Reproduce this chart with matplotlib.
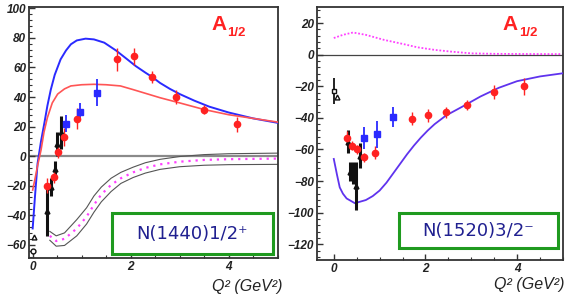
import matplotlib
matplotlib.use("Agg")
import matplotlib.pyplot as plt
from matplotlib.patches import Rectangle
from matplotlib.ticker import MultipleLocator, AutoMinorLocator

plt.rcParams["font.family"] = ["Liberation Sans", "DejaVu Sans"]
# tick labels in the original are bold italic
plt.rcParams["font.style"] = "italic"
plt.rcParams["font.weight"] = "bold"

# ---------------- N(1440)1/2+ ----------------
# model curves
roper_blue_q2 = [0.0, 0.05, 0.1, 0.17, 0.24, 0.3, 0.37, 0.45, 0.57, 0.68, 0.78,
                 0.9, 1.08, 1.25, 1.46, 1.7, 1.93, 2.1, 2.3, 2.44, 2.6, 2.8, 3.0,
                 3.3, 3.6, 4.0, 4.5, 5.0]
roper_blue_a = [-49, -26, -5, 10, 22.6, 34, 45, 55, 65.5, 71.5, 75.7,
                78.3, 79.5, 79, 76.8, 71.5, 65.5, 61, 56.5, 53.5, 49.5, 45.5, 42,
                37.5, 33.5, 29.5, 25.5, 22.5]
roper_red_q2 = [0.0, 0.05, 0.1, 0.17, 0.23, 0.3, 0.4, 0.51, 0.65, 0.78, 1.0,
                1.25, 1.5, 1.79, 2.05, 2.3, 2.6, 3.0, 3.5, 4.0, 4.5, 5.0]
roper_red_a = [-23, -15, -6.5, 4, 16, 26, 36, 42, 45.5, 47.5, 48.3,
               48.6, 48.3, 47.5, 45, 42.5, 39.5, 36, 31.5, 28, 25.5, 23]
band_q2 = [0.35, 0.48, 0.65, 0.9, 1.1, 1.25, 1.4, 1.6, 1.8, 2.05, 2.3, 2.6,
           3.0, 3.5, 4.0, 5.0]
band_hi = [-51, -54, -52, -43, -35, -27, -21, -15, -11, -7.5, -4.5, -2.2,
           -0.3, 1.0, 1.6, 2.0]
band_lo = [-57, -61, -60.5, -54, -46, -38, -31, -24, -18.5, -14.5, -11.5, -9,
           -7.2, -6.2, -5.8, -5.6]
band_mid = [-54, -57.5, -56, -49, -41, -33, -26, -19.5, -15, -11, -8, -5.6,
            -3.8, -2.6, -2.1, -1.7]

# data
roper_red_x = [0.30, 0.43, 0.52, 0.64, 0.91, 1.73, 2.06, 2.44, 2.92, 3.49, 4.16]
roper_red_y = [-20, -14, 3, 13, 25.3, 65.5, 67.5, 53.5, 40, 31.5, 21.5]
roper_red_e = [5, 4, 4, 6, 7, 8, 5.5, 4, 5, 3, 5]
roper_blue_x = [0.68, 0.97, 1.31]
roper_blue_y = [22, 30, 43]
roper_blue_e = [6, 6, 9]
roper_blk_x = [0.30, 0.38, 0.45, 0.50, 0.57]
roper_blk_y = [-37, -21, -9, 8, 16]
roper_blk_e = [17, 6, 6, 8, 11]

# ---------------- N(1520)3/2- ----------------
d13_blue_q2 = [0.0, 0.07, 0.13, 0.2, 0.28, 0.46, 0.7, 0.85, 1.0, 1.15, 1.3,
               1.45, 1.6, 1.75, 1.9, 2.05, 2.2, 2.45, 2.8, 3.2, 3.6, 4.0, 4.5, 5.0]
d13_blue_a = [-66, -76, -84, -88, -91, -94, -92, -89.5, -86, -81, -75,
              -69, -63, -57.5, -52.5, -48, -44, -38.5, -33, -26.5, -21, -16.8,
              -13.8, -11.8]
d13_mag_q2 = [0.0, 0.2, 0.42, 0.7, 1.1, 1.5, 1.83, 2.2, 2.56, 3.0, 3.5, 4.0, 5.0]
d13_mag_a = [10.5, 12.5, 14, 12.5, 9.3, 6.8, 4.6, 3.0, 1.9, 0.8, 0.5, 0.4, 0.3]

d13_red_x = [0.29, 0.40, 0.51, 0.66, 0.90, 1.71, 2.05, 2.45, 2.91, 3.49, 4.15]
d13_red_y = [-52.5, -57.5, -60, -65, -62, -40.5, -38.5, -36.5, -32, -23.5, -20]
d13_red_e = [4, 3, 3, 3, 4, 4, 4, 3.5, 3, 4.5, 5.5]
d13_blue_x = [0.66, 0.95, 1.29]
d13_blue_y = [-52.5, -50.5, -39.5]
d13_blue_e = [7, 8.5, 6.5]
d13_blk_x = [0.30, 0.36, 0.42, 0.48, 0.57]
d13_blk_y = [-55, -74, -75, -83, -64]
d13_blk_e = [7, 6, 7, 15, 8]

RED = "#ff2222"
BLUE = "#2a2aff"
VIOLET = "#5f33ee"
MAGENTA = "#ff40ff"
GREEN = "#1f9a1f"
NAVY = "#202090"
FRAME = "#333333"

fig = plt.figure(figsize=(5.75, 3.0), dpi=100)
ax1 = fig.add_axes([0.050, 0.140, 0.433, 0.837])
ax2 = fig.add_axes([0.551, 0.133, 0.428, 0.843])


def style_axes(ax):
    for sp in ax.spines.values():
        sp.set_color(FRAME)
        sp.set_linewidth(1.3)
    ax.xaxis.set_major_locator(MultipleLocator(2))
    ax.xaxis.set_minor_locator(AutoMinorLocator(4))
    ax.yaxis.set_major_locator(MultipleLocator(20))
    ax.yaxis.set_minor_locator(AutoMinorLocator(5))
    ax.tick_params(which="both", direction="in", top=False, right=False,
                   colors=FRAME, labelcolor="#222222", labelsize=8.5)
    ax.tick_params(which="major", length=4, width=1)
    ax.tick_params(which="minor", length=2, width=0.8)
    ax.tick_params(axis="x", pad=2)
    ax.tick_params(axis="y", pad=2)


def data_points(ax, x, y, e, fmt, color, ms, lw=1.0):
    ax.errorbar(x, y, yerr=e, fmt=fmt, color=color, ms=ms, elinewidth=lw,
                capsize=0, mec=color, mfc=color, zorder=5)


# ---- left panel
ax1.set_xlim(-0.08, 5.0)
ax1.set_ylim(-69, 101)
ax1.axhline(0, color="#8a8a8a", lw=1.6, zorder=1)
ax1.plot(roper_blue_q2, roper_blue_a, color=BLUE, lw=1.4, zorder=3)
ax1.plot(roper_red_q2, roper_red_a, color="#ff5555", lw=1.2, zorder=3)
ax1.plot(band_q2, band_hi, color="#555555", lw=0.8, zorder=2)
ax1.plot(band_q2, band_lo, color="#555555", lw=0.8, zorder=2)
ax1.plot(band_q2, band_mid, color=MAGENTA, lw=1.6, ls=(0, (1, 2.2)), zorder=2)
data_points(ax1, roper_blk_x, roper_blk_y, roper_blk_e, "^", "#111111", 3.5, lw=2.2)
data_points(ax1, roper_red_x, roper_red_y, roper_red_e, "o", RED, 4.5)
data_points(ax1, roper_blue_x, roper_blue_y, roper_blue_e, "s", BLUE, 4.5, lw=1.3)
ax1.plot([0.03], [-55], marker="^", ms=3.5, mfc="white", mec="#111111", ls="none")
ax1.plot([0.0], [-64], marker="o", ms=3.5, mfc="white", mec="#111111", ls="none")
style_axes(ax1)

# ---- right panel
ax2.set_xlim(-0.37, 5.0)
ax2.set_ylim(-130, 30)
ax2.axhline(0, color="#444444", lw=0.9, zorder=1)
ax2.plot(d13_mag_q2, d13_mag_a, color=MAGENTA, lw=1.3, ls=(0, (1, 1)), zorder=2)
ax2.plot(d13_blue_q2, d13_blue_a, color=VIOLET, lw=1.3, zorder=3)
data_points(ax2, d13_blk_x, d13_blk_y, d13_blk_e, "^", "#111111", 3.5, lw=2.2)
data_points(ax2, d13_red_x, d13_red_y, d13_red_e, "o", RED, 4.5)
data_points(ax2, d13_blue_x, d13_blue_y, d13_blue_e, "s", BLUE, 4.5, lw=1.3)
ax2.errorbar([0.0], [-23], yerr=[8.5], fmt="s", ms=3.5, mfc="white",
             mec="#111111", color="#111111", elinewidth=1.3, capsize=0)
ax2.plot([0.08], [-27], marker="^", ms=3.5, mfc="white", mec="#111111", ls="none")
style_axes(ax2)

# ---- annotations
for ax, label in [(ax1, "N(1440)1/2\u207a"), (ax2, "N(1520)3/2\u207b")]:
    if ax is ax1:
        x0, y0, w, h = 0.333, 0.016, 0.647, 0.163
    else:
        x0, y0, w, h = 0.333, 0.047, 0.647, 0.139
    ax.add_patch(Rectangle((x0, y0), w, h, transform=ax.transAxes, fill=True,
                           facecolor="white", edgecolor=GREEN, lw=2.2, zorder=6))
    ax.text(x0 + w / 2, y0 + h / 2, label, transform=ax.transAxes,
            ha="center", va="center", fontsize=13, color=NAVY, zorder=7,
            family=["DejaVu Sans"], fontstyle="normal", fontweight="normal")

# amplitude name, A with a 1/2 subscript
for ax, xa, xs, ya, ys in [(ax1, 0.735, 0.795, 0.908, 0.884),
                           (ax2, 0.756, 0.821, 0.909, 0.885)]:
    ax.text(xa, ya, "A", transform=ax.transAxes, ha="left", va="baseline",
            fontsize=15, color=RED, fontweight="bold", fontstyle="normal")
    ax.text(xs, ys, "1/2", transform=ax.transAxes, ha="left", va="baseline",
            fontsize=9.5, color=RED, fontweight="bold", fontstyle="normal")

fig.text(282 / 575, 1 - 287 / 300, "Q\u00b2 (GeV\u00b2)", ha="right", va="center",
         fontsize=11.5, fontstyle="italic", fontweight="normal", color="#222222")
fig.text(565 / 575, 1 - 285 / 300, "Q\u00b2 (GeV\u00b2)", ha="right", va="center",
         fontsize=11.5, fontstyle="italic", fontweight="normal", color="#222222")

fig.savefig("out.png", dpi=100)
